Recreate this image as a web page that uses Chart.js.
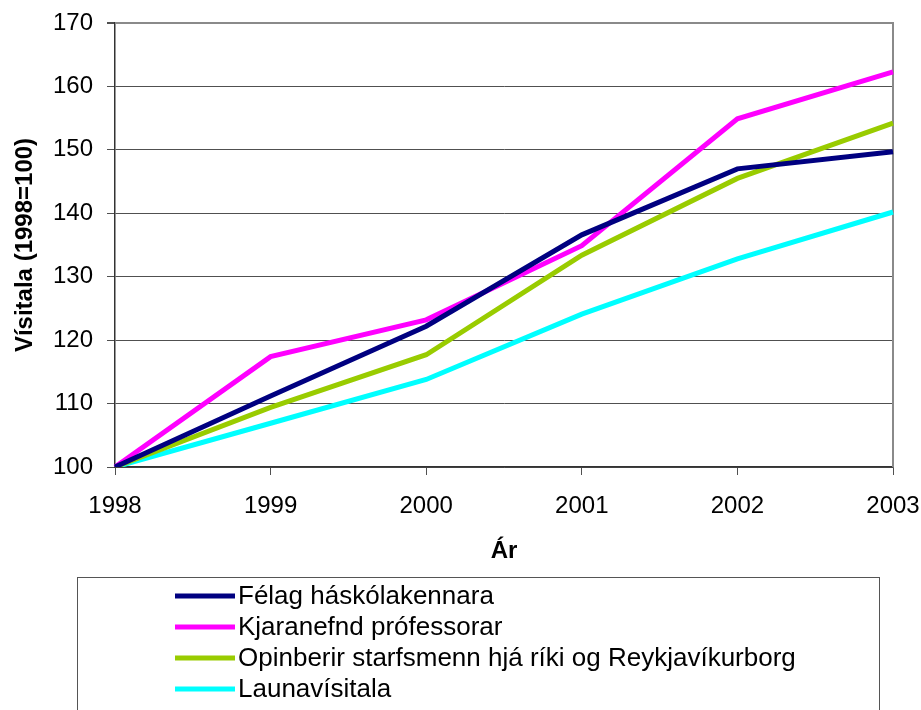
<!DOCTYPE html>
<html>
<head>
<meta charset="utf-8">
<script src="https://cdn.jsdelivr.net/npm/chart.js@4/dist/chart.umd.min.js"></script>
<style>
  html, body { margin: 0; padding: 0; background: #ffffff; }
  #wrap { width: 921px; height: 710px; }
</style>
</head>
<body>
<div id="wrap"><canvas id="c" width="921" height="710"></canvas></div>
<script>
// ---- data ----
const years = ['1998', '1999', '2000', '2001', '2002', '2003'];
const seriesNames = [
  'Félag háskólakennara',
  'Kjaranefnd prófessorar',
  'Opinberir starfsmenn hjá ríki og Reykjavíkurborg',
  'Launavísitala'
];
const felag = [100, 111.2, 122.2, 136.6, 147.0, 149.7];
const kjaranefnd = [100, 117.4, 123.2, 134.9, 154.9, 162.3];
const opinberir = [100, 109.4, 117.7, 133.4, 145.5, 154.2];
const launavisitala = [100, 106.9, 113.8, 124.1, 132.8, 140.2];
const yTitle = 'Vísitala (1998=100)';
const xTitle = 'Ár';
const yMin = 100, yMax = 170, yStep = 10;

const colors = ['#000080', '#FF00FF', '#99CC00', '#00FFFF'];
const FONT = "'Liberation Sans', Arial, sans-serif";

const plotBorder = {
  id: 'plotBorder',
  beforeDatasetsDraw(chart) {
    const a = chart.chartArea, ctx = chart.ctx;
    ctx.save();
    ctx.strokeStyle = '#8a8a8a';
    ctx.lineWidth = 2;
    ctx.beginPath();
    ctx.moveTo(a.left, a.top);
    ctx.lineTo(a.right, a.top);
    ctx.lineTo(a.right, a.bottom);
    ctx.stroke();
    ctx.restore();
  }
};

const legendBox = {
  id: 'legendBox',
  afterDraw(chart) {
    const ctx = chart.ctx;
    ctx.save();
    ctx.strokeStyle = '#555555';
    ctx.lineWidth = 1;
    ctx.strokeRect(77.5, 577.5, 802, 200);
    ctx.font = '26px ' + FONT;
    ctx.textBaseline = 'middle';
    ctx.textAlign = 'left';
    chart.data.datasets.forEach((ds, i) => {
      const y = 596 + i * 31;
      ctx.strokeStyle = ds.borderColor;
      ctx.lineWidth = 5;
      ctx.beginPath();
      ctx.moveTo(175, y);
      ctx.lineTo(235, y);
      ctx.stroke();
      ctx.fillStyle = '#000000';
      ctx.fillText(ds.label, 238, y + 1);
    });
    ctx.restore();
  }
};

const datasets = [felag, kjaranefnd, opinberir, launavisitala].map((d, i) => ({
  label: seriesNames[i],
  data: d,
  borderColor: colors[i],
  backgroundColor: colors[i],
  borderWidth: 5,
  pointRadius: 0,
  tension: 0,
  fill: false,
  borderJoinStyle: 'miter'
}));

new Chart(document.getElementById('c'), {
  type: 'line',
  data: { labels: years, datasets: datasets },
  plugins: [plotBorder, legendBox],
  options: {
    responsive: false,
    animation: false,
    devicePixelRatio: 1,
    layout: { padding: { left: 0, top: 23, right: 28, bottom: 144 } },
    plugins: { legend: { display: false }, tooltip: { enabled: false } },
    scales: {
      x: {
        type: 'category',
        offset: false,
        afterFit(scale) { scale.height = 99; scale.paddingLeft = 0; scale.paddingRight = 0; },
        grid: { drawOnChartArea: false, color: '#505050', tickLength: 8, lineWidth: 1 },
        border: { color: '#333333', width: 1.5 },
        ticks: { color: '#000', font: { family: FONT, size: 24 }, padding: 17, maxRotation: 0 },
        title: { display: true, text: xTitle, color: '#000', font: { family: FONT, size: 24, weight: 'bold' }, padding: { top: 0, bottom: 0 } }
      },
      y: {
        min: yMin, max: yMax,
        afterFit(scale) { scale.width = 115; scale.paddingTop = 0; scale.paddingBottom = 0; },
        grid: {
          color: (c) => (c.tick && c.tick.value === yMax) ? '#8a8a8a' : '#505050',
          lineWidth: (c) => (c.tick && c.tick.value === yMax) ? 2 : 1,
          tickColor: '#505050',
          tickLength: 8
        },
        border: { color: '#333333', width: 1.5 },
        ticks: { stepSize: yStep, color: '#000', font: { family: FONT, size: 24 }, padding: 14 },
        title: { display: true, text: yTitle, color: '#000', font: { family: FONT, size: 24, weight: 'bold' }, padding: { top: 11, bottom: 0 } }
      }
    }
  }
});
</script>
</body>
</html>
